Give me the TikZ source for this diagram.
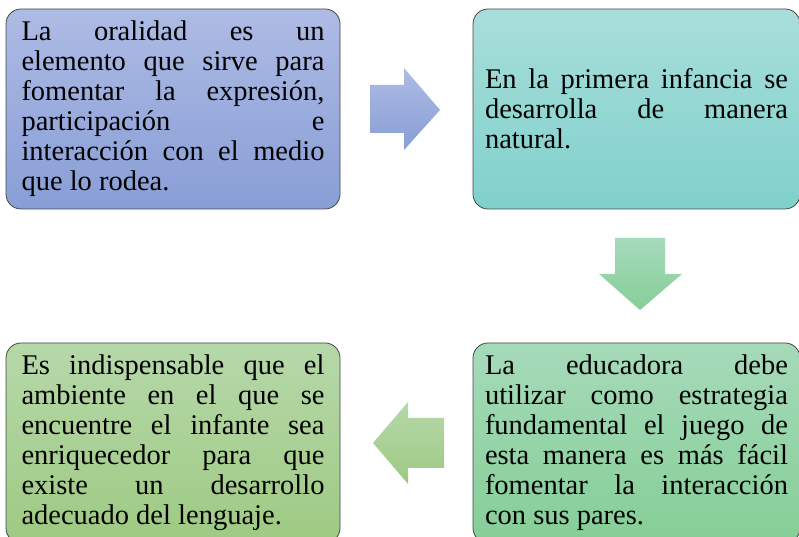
\documentclass[tikz,border=0pt]{standalone}
\usepackage{fontspec}
\setmainfont{LiberationSerif-Regular.ttf}
\usepackage{xcolor}
\usetikzlibrary{positioning, calc}
\definecolor{oralblueA}{RGB}{174,187,228}
\definecolor{oralblueB}{RGB}{136,158,214}
\definecolor{oraltealA}{RGB}{168,222,218}
\definecolor{oraltealB}{RGB}{128,208,204}
\definecolor{oralmintA}{RGB}{166,218,186}
\definecolor{oralmintB}{RGB}{133,206,150}
\definecolor{oralleafA}{RGB}{182,216,170}
\definecolor{oralleafB}{RGB}{158,202,130}
\definecolor{oralline}{RGB}{70,70,70}

\begin{document}
\begin{tikzpicture}[x=1pt, y=1pt,
    card/.style={draw=oralline, line width=0.8pt, rounded corners=15pt,
                 minimum height=200pt, text width=303pt, inner xsep=12pt,
                 align=justify, font=\rmfamily\fontsize{28.5}{30}\selectfont},
    blockarrow/.style={draw=none}
  ]
    \clip (0,0) rectangle (799,537);

    \node[card, minimum width=334pt, top color=oralblueA, bottom color=oralblueB]
      (oral) at (173,428) {La oralidad es un\linebreak
        elemento que sirve para\linebreak
        fomentar la expresión,\linebreak
        participación e\linebreak
        interacción con el medio\linebreak
        que lo rodea.};
    \node[card, minimum width=327pt, top color=oraltealA, bottom color=oraltealB]
      (infancia) at (636.5,428) {En la primera infancia se\linebreak
        desarrolla de manera\linebreak
        natural.};
    \node[card, minimum width=327pt, top color=oralmintA, bottom color=oralmintB]
      (educadora) at (636.5,94) {La educadora debe\linebreak
        utilizar como estrategia\linebreak
        fundamental el juego de\linebreak
        esta manera es más fácil\linebreak
        fomentar la interacción\linebreak
        con sus pares.};
    \node[card, minimum width=334pt, top color=oralleafA, bottom color=oralleafB]
      (ambiente) at (173,94) {Es indispensable que el\linebreak
        ambiente en el que se\linebreak
        encuentre el infante sea\linebreak
        enriquecedor para que\linebreak
        existe un desarrollo\linebreak
        adecuado del lenguaje.};

    % block arrows between the cards
    \shade[blockarrow, top color=oralblueA, bottom color=oralblueB]
      (370,404) -- (404,404) -- (404,387) -- (440,427) -- (404,469)
      -- (404,452) -- (370,452) -- cycle;
    \shade[blockarrow, top color=oralmintA!90!oraltealA, bottom color=oralmintB]
      (615,299) -- (665,299) -- (665,263) -- (682,263) -- (640,227)
      -- (599,263) -- (615,263) -- cycle;
    \shade[blockarrow, top color=oralleafA, bottom color=oralleafB]
      (444,119) -- (408,119) -- (408,135) -- (373,94) -- (408,53)
      -- (408,69) -- (444,69) -- cycle;
\end{tikzpicture}
\end{document}
